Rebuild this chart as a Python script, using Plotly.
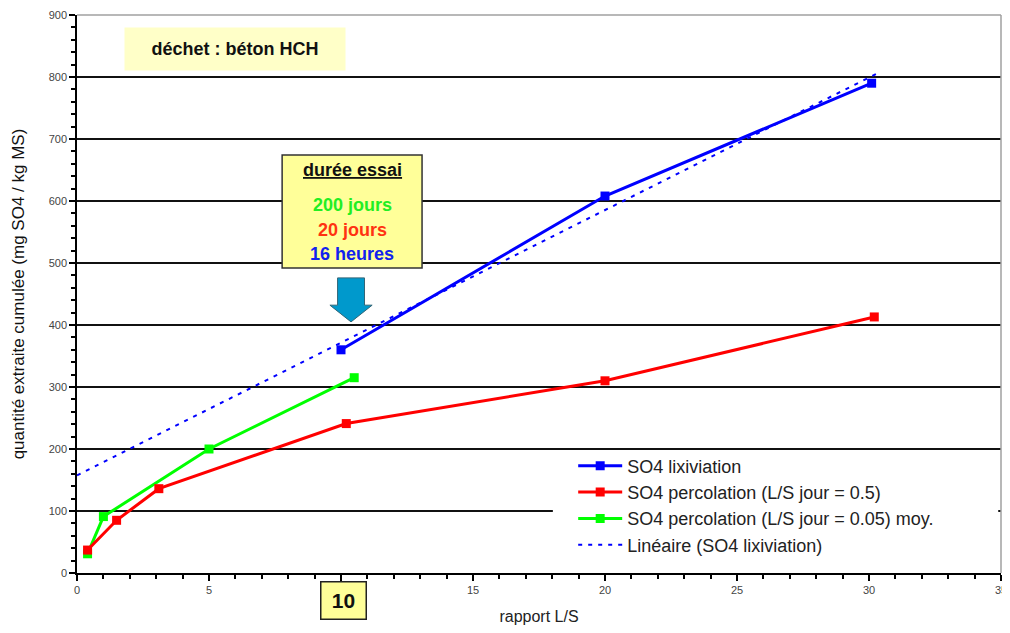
import numpy as np
import plotly.graph_objects as go

# ---- data ----
lix_x = [10.0, 20.0, 30.1]
lix_y = [360, 608, 790]

perc05_x = [0.4, 1.5, 3.1, 10.2, 20.0, 30.2]
perc05_y = [37, 85, 136, 241, 310, 413]

perc005_x = [0.4, 1.0, 5.0, 10.5]
perc005_y = [31, 91, 200, 315]

trend_x = [0.0, 30.3]

y_ticks = [0, 100, 200, 300, 400, 500, 600, 700, 800, 900]
x_ticks = [0, 5, 10, 15, 20, 25, 30, 35]
x_tick_labels = ["0", "5", "", "15", "20", "25", "30", "35"]  # "10" is shown in the yellow box

# linear trend (regression on lixiviation data)
slope, intercept = np.polyfit(lix_x, lix_y, 1)
trend_y = [slope * v + intercept for v in trend_x]

FONT = "Liberation Sans, Arial, sans-serif"

fig = go.Figure()
fig.add_trace(go.Scatter(x=trend_x, y=trend_y, mode="lines", name="Linéaire (SO4 lixiviation)",
                         line=dict(color="#0000FF", width=2, dash="4px,6px"), legendrank=4))
fig.add_trace(go.Scatter(x=perc005_x, y=perc005_y, mode="lines+markers",
                         name="SO4 percolation (L/S jour = 0.05) moy.",
                         line=dict(color="#00FF00", width=3),
                         marker=dict(symbol="square", size=9, color="#00FF00"), legendrank=3))
fig.add_trace(go.Scatter(x=perc05_x, y=perc05_y, mode="lines+markers",
                         name="SO4 percolation (L/S jour = 0.5)",
                         line=dict(color="#FF0000", width=3),
                         marker=dict(symbol="square", size=9, color="#FF0000"), legendrank=2))
fig.add_trace(go.Scatter(x=lix_x, y=lix_y, mode="lines+markers", name="SO4 lixiviation",
                         line=dict(color="#0000FF", width=3),
                         marker=dict(symbol="square", size=9, color="#0000FF"), legendrank=1))

shapes = [
    # white legend area hiding the gridline behind it
    dict(type="rect", xref="paper", yref="paper", x0=0.515, x1=0.997, y0=0.014, y1=0.215,
         fillcolor="white", line=dict(width=0), layer="above"),
    # top and right frame lines
    dict(type="line", xref="paper", yref="paper", x0=0, x1=1, y0=1, y1=1,
         line=dict(color="#A0A0A0", width=1.5)),
    dict(type="line", xref="paper", yref="paper", x0=1, x1=1, y0=0, y1=1,
         line=dict(color="#A0A0A0", width=1.5)),
    # "durée essai" box
    dict(type="rect", xref="x", yref="y", x0=7.77, x1=13.07, y0=492, y1=674,
         fillcolor="#FFFF99", line=dict(color="#333333", width=1.5), layer="above"),
    # blue block arrow
    dict(type="path", xref="x", yref="y",
         path="M 9.87 476 L 10.89 476 L 10.89 432 L 11.18 432 L 10.38 405 L 9.58 432 L 9.87 432 Z",
         fillcolor="#0099CC", line=dict(color="#336677", width=1), layer="above"),
]

annotations = [
    dict(x=5.98, y=845, xref="x", yref="y", text="<b>déchet : béton HCH</b>", showarrow=False,
         font=dict(family=FONT, size=18, color="#111111"), bgcolor="#FFFFC8",
         width=220, height=42, borderpad=0),
    dict(x=10.42, y=650, xref="x", yref="y", text="<b><u>durée essai</u></b>", showarrow=False,
         font=dict(family=FONT, size=18, color="#111111")),
    dict(x=10.42, y=594, xref="x", yref="y", text="<b>200 jours</b>", showarrow=False,
         font=dict(family=FONT, size=18, color="#22EE22")),
    dict(x=10.42, y=554, xref="x", yref="y", text="<b>20 jours</b>", showarrow=False,
         font=dict(family=FONT, size=18, color="#FF3311")),
    dict(x=10.42, y=515, xref="x", yref="y", text="<b>16 heures</b>", showarrow=False,
         font=dict(family=FONT, size=18, color="#1122EE")),
    dict(x=10.1, y=-0.084, xref="x", yref="paper", text="<b>10</b>", showarrow=False,
         font=dict(family=FONT, size=21, color="#111111"), bgcolor="#FFFF99",
         bordercolor="#222222", borderwidth=1.5, width=44, height=36, borderpad=0),
]

fig.update_layout(
    width=1000, height=617,
    margin=dict(l=69, r=7, t=7, b=52),
    paper_bgcolor="white", plot_bgcolor="white",
    font=dict(family=FONT, color="#333333"),
    showlegend=True,
    legend=dict(x=0.537, y=0.225, xanchor="left", yanchor="top", bgcolor="rgba(255,255,255,0)",
                borderwidth=0, font=dict(family=FONT, size=18, color="#222222"),
                traceorder="normal", itemwidth=44, tracegroupgap=0),
    shapes=shapes,
    annotations=annotations,
)

fig.update_xaxes(range=[0, 35], tickvals=x_ticks, ticktext=x_tick_labels, automargin=False,
                 ticklabeloverflow="allow",
                 showgrid=False, zeroline=False, showline=True, linecolor="#000000", linewidth=1.5,
                 ticks="outside", ticklen=6, tickcolor="#000000", tickwidth=1.5,
                 minor=dict(dtick=1, ticks="outside", ticklen=4, tickcolor="#000000", showgrid=False),
                 tickfont=dict(size=11, color="#444444"),
                 title=dict(text="rapport L/S", font=dict(size=16, color="#222222"), standoff=16))
fig.update_yaxes(range=[0, 900], tickvals=y_ticks, ticktext=[str(v) for v in y_ticks],
                 automargin=False,
                 showgrid=True, gridcolor="#111111", gridwidth=1.5, zeroline=False,
                 showline=True, linecolor="#000000", linewidth=1.5,
                 ticks="outside", ticklen=6, tickcolor="#000000", tickwidth=1.5,
                 minor=dict(dtick=20, ticks="outside", ticklen=4, tickcolor="#000000", showgrid=False),
                 tickfont=dict(size=11, color="#444444"),
                 title=dict(text="quantité extraite cumulée (mg SO4 / kg MS)",
                            font=dict(size=17, color="#111111"), standoff=20))

fig.write_html("out.html")
